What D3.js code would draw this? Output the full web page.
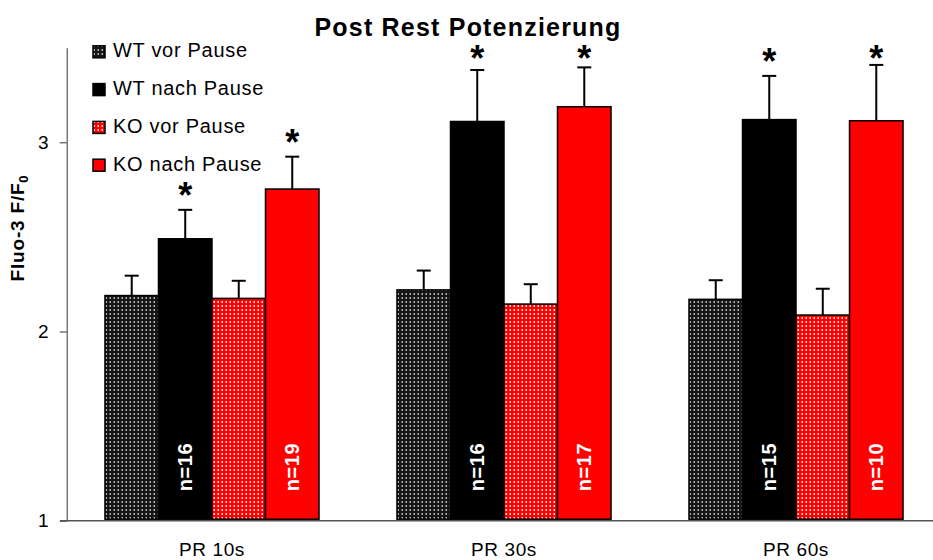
<!DOCTYPE html>
<html><head><meta charset="utf-8">
<script src="https://cdn.jsdelivr.net/npm/d3@7"></script>
<style>
body{margin:0;background:#fff;}
text{font-family:Arial,"Liberation Sans",Helvetica,sans-serif;}
</style></head>
<body><svg id="c" width="933" height="560"></svg>
<script>
const groups = ["PR 10s", "PR 30s", "PR 60s"];
const seriesNames = ["WT vor Pause", "WT nach Pause", "KO vor Pause", "KO nach Pause"];
const wtVor = [2.19, 2.22, 2.17];
const wtVorErr = [0.105, 0.102, 0.101];
const wtNach = [2.49, 3.11, 3.12];
const wtNachErr = [0.153, 0.272, 0.231];
const koVor = [2.175, 2.145, 2.087];
const koVorErr = [0.093, 0.105, 0.139];
const koNach = [2.753, 3.188, 3.114];
const koNachErr = [0.171, 0.208, 0.295];
const wtNachN = [16, 16, 15];
const koNachN = [19, 17, 10];
const yTicks = [1, 2, 3];

const svg = d3.select("#c");
const defs = svg.append("defs");
function dotPattern(id, base, dot){
  const p = defs.append("pattern").attr("id", id).attr("patternUnits","userSpaceOnUse")
    .attr("width", 4).attr("height", 4);
  p.append("rect").attr("width",4).attr("height",4).attr("fill",base);
  p.append("rect").attr("x",1.5).attr("y",1).attr("width",1.5).attr("height",2).attr("fill",dot);
}
dotPattern("pWT", "#151515", "#b0b0b0");
dotPattern("pKO", "#ff0000", "#ffe0e0");
const fills = ["url(#pWT)", "#000000", "url(#pKO)", "#ff0000"];

const values = [wtVor, wtNach, koVor, koNach];
const errs = [wtVorErr, wtNachErr, koVorErr, koNachErr];
const nCounts = [null, wtNachN, null, koNachN];

const x0 = d3.scaleBand().domain(groups).range([67, 941]).paddingInner(0.267).paddingOuter(0.13);
const x1 = d3.scaleBand().domain(d3.range(4)).range([0, x0.bandwidth()]).padding(0);
const y = d3.scaleLinear().domain([1, 3.5]).range([520.7, 47.7]);

const rows = [];
groups.forEach((g, gi) => {
  for (let s = 0; s < 4; s++) {
    rows.push({g, gi, s, v: values[s][gi], e: errs[s][gi], n: nCounts[s] ? nCounts[s][gi] : null});
  }
});

// bars
svg.append("g").selectAll("rect").data(rows).join("rect")
  .attr("x", d => x0(d.g) + x1(d.s))
  .attr("y", d => y(d.v))
  .attr("width", x1.bandwidth())
  .attr("height", d => y(1) - 1.5 - y(d.v))
  .attr("fill", d => fills[d.s])
  .attr("stroke", "#000").attr("stroke-width", 1.5);

// error bars
const eb = svg.append("g").attr("stroke", "#000").attr("stroke-width", 2);
rows.forEach(d => {
  const cx = x0(d.g) + x1(d.s) + x1.bandwidth() / 2;
  eb.append("line").attr("x1", cx).attr("x2", cx).attr("y1", y(d.v)).attr("y2", y(d.v + d.e));
  eb.append("line").attr("x1", cx - 7).attr("x2", cx + 7).attr("y1", y(d.v + d.e)).attr("y2", y(d.v + d.e));
});

// stars
rows.filter(d => d.s === 1 || d.s === 3).forEach(d => {
  const cx = x0(d.g) + x1(d.s) + x1.bandwidth() / 2;
  const sy = Math.max(y(d.v + d.e) - 18, 55);
  svg.append("text").attr("x", cx).attr("y", sy + 16).attr("text-anchor", "middle")
    .attr("font-size", 36).attr("font-weight", "bold").text("*");
});

// n labels
rows.filter(d => d.n !== null).forEach(d => {
  const cx = x0(d.g) + x1(d.s) + x1.bandwidth() / 2;
  svg.append("text").attr("transform", `translate(${cx},467) rotate(-90)`)
    .attr("text-anchor", "middle").attr("dominant-baseline", "central")
    .attr("fill", "#fff").attr("font-weight", "bold").attr("font-size", 20)
    .attr("letter-spacing", 0.6).text("n=" + d.n);
});

// axes
const ya = svg.append("g").attr("transform", "translate(66.7,0)")
  .call(d3.axisLeft(y).tickValues(yTicks).tickFormat(d3.format("d")).tickSize(7).tickSizeOuter(0).tickPadding(11));
ya.selectAll("path,line").attr("stroke", "#333");
ya.selectAll("text").attr("font-size", 19).attr("fill", "#000");

svg.append("line").attr("x1", 60).attr("x2", 933).attr("y1", y(1)).attr("y2", y(1))
  .attr("stroke", "#555").attr("stroke-width", 1.5);

svg.append("g").selectAll("text").data(groups).join("text")
  .attr("x", d => x0(d) + x0.bandwidth() / 2).attr("y", 556)
  .attr("text-anchor", "middle").attr("font-size", 19).attr("letter-spacing", 0.6).text(d => d);

// title
svg.append("text").attr("x", 468).attr("y", 36).attr("text-anchor", "middle")
  .attr("font-size", 25).attr("font-weight", "bold").attr("letter-spacing", 1.2)
  .text("Post Rest Potenzierung");

// y label
const yl = svg.append("text").attr("transform", "translate(24,228) rotate(-90)")
  .attr("text-anchor", "middle").attr("font-size", 19).attr("font-weight", "bold").attr("letter-spacing", 0.8);
yl.append("tspan").text("Fluo-3 F/F");
yl.append("tspan").attr("font-size", 13).attr("dy", 4).text("0");

// legend
const lg = svg.append("g");
seriesNames.forEach((s, i) => {
  const by = 57.3 + i * 37.8;
  lg.append("rect").attr("x", 93).attr("y", by - 11.5).attr("width", 12).attr("height", 12)
    .attr("fill", fills[i]).attr("stroke", "#000").attr("stroke-width", 1.5);
  lg.append("text").attr("x", 113).attr("y", by).attr("font-size", 20).attr("letter-spacing", 0.7).text(s);
});
</script></body></html>
